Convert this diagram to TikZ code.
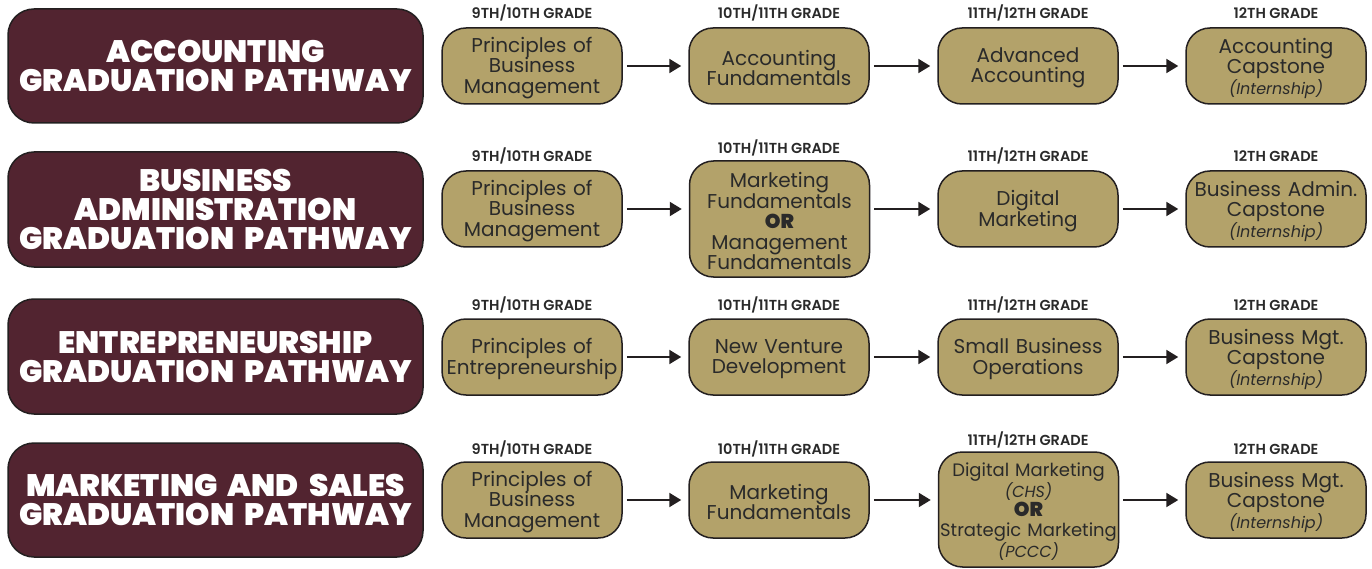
\documentclass[tikz,border=0pt]{standalone}
\usepackage{fontspec}
\setmainfont{Poppins}
\newfontfamily\titlefont{Poppins Black}
\newfontfamily\gradefont{Poppins SemiBold}
\usetikzlibrary{arrows.meta}
\definecolor{maroon}{HTML}{522430}
\definecolor{gold}{HTML}{B3A26A}
\definecolor{textc}{HTML}{2A2A2A}
\definecolor{linec}{HTML}{231F20}
\newcommand{\orword}{{\titlefont OR}}
\newcommand{\intern}[1]{{\fontsize{16}{16}\selectfont\itshape #1}}
\newcommand{\lowertext}{\endgraf\vspace*{-4pt}}
\begin{document}
\begin{tikzpicture}[x=1pt,y=-1pt,
  titlebox/.style={draw=linec, line width=1.5pt, fill=maroon, rounded corners=26pt,
    minimum width=415pt, text width=410pt, align=center, text=white,
    font=\titlefont\fontsize{31}{29}\selectfont, inner sep=0pt},
  course/.style={draw=linec, line width=1.5pt, fill=gold, rounded corners=24pt,
    minimum width=180pt, minimum height=76pt, text width=178pt, align=center,
    text=textc, font=\fontsize{20}{20.5}\selectfont, inner sep=0pt,
    execute at end node={\lowertext}},
  tallcourse/.style={course, minimum height=116pt},
  grade/.style={font=\gradefont\fontsize{14.5}{14.5}\selectfont, text=textc, anchor=base},
  arr/.style={-{Triangle[length=12pt,width=14pt]}, line width=2pt, draw=linec,
    shorten <=4pt, shorten >=7pt}]
\useasboundingbox[fill=white] (0,0) rectangle (1372,569);

% ---------- Row 1 ----------
\node[titlebox, minimum height=114pt] (t1) at (215.5,66) {ACCOUNTING\\GRADUATION PATHWAY};
\node[course] (a1) at (532,66) {Principles of\\Business\\Management};
\node[course] (a2) at (779,66) {Accounting\\Fundamentals};
\node[course] (a3) at (1028,66) {Advanced\\Accounting};
\node[course] (a4) at (1276,66) {Accounting\\Capstone\\\intern{(Internship)}};
\node[grade] (ga1) at (532,19) {9TH/10TH GRADE};
\node[grade] (ga2) at (779,19) {10TH/11TH GRADE};
\node[grade] (ga3) at (1028,19) {11TH/12TH GRADE};
\node[grade] (ga4) at (1276,19) {12TH GRADE};
\draw[arr] (a1.east) -- (a2.west);
\draw[arr] (a2.east) -- (a3.west);
\draw[arr] (a3.east) -- (a4.west);

% ---------- Row 2 ----------
\node[titlebox, minimum height=115pt] (t2) at (215.5,209.5) {BUSINESS\\ADMINISTRATION\\GRADUATION PATHWAY};
\node[course] (b1) at (532,209) {Principles of\\Business\\Management};
\node[tallcourse] (b2) at (779.5,219) {Marketing\\Fundamentals\\\orword\\Management\\Fundamentals};
\node[course] (b3) at (1028,209) {Digital\\Marketing};
\node[course] (b4) at (1276,209) {Business Admin.\\Capstone\\\intern{(Internship)}};
\node[grade] (gb1) at (532,162) {9TH/10TH GRADE};
\node[grade] (gb2) at (779,154) {10TH/11TH GRADE};
\node[grade] (gb3) at (1028,162) {11TH/12TH GRADE};
\node[grade] (gb4) at (1276,162) {12TH GRADE};
\draw[arr] (b1.east) -- (b1.east -| b2.west);
\draw[arr] (b2.east |- b3.west) -- (b3.west);
\draw[arr] (b3.east) -- (b4.west);

% ---------- Row 3 ----------
\node[titlebox, minimum height=115pt] (t3) at (215.5,356.5) {ENTREPRENEURSHIP\\GRADUATION PATHWAY};
\node[course] (c1) at (532,357) {Principles of\\Entrepreneurship};
\node[course] (c2) at (779,357) {New Venture\\Development};
\node[course] (c3) at (1028,357) {Small Business\\Operations};
\node[course] (c4) at (1276,357) {Business Mgt.\\Capstone\\\intern{(Internship)}};
\node[grade] (gc1) at (532,310) {9TH/10TH GRADE};
\node[grade] (gc2) at (779,310) {10TH/11TH GRADE};
\node[grade] (gc3) at (1028,310) {11TH/12TH GRADE};
\node[grade] (gc4) at (1276,310) {12TH GRADE};
\draw[arr] (c1.east) -- (c2.west);
\draw[arr] (c2.east) -- (c3.west);
\draw[arr] (c3.east) -- (c4.west);

% ---------- Row 4 ----------
\node[titlebox, minimum height=114pt] (t4) at (215.5,500) {MARKETING AND SALES\\GRADUATION PATHWAY};
\node[course] (d1) at (532,500) {Principles of\\Business\\Management};
\node[course] (d2) at (779,500) {Marketing\\Fundamentals};
\node[tallcourse, minimum height=115pt, text width=184pt, inner xsep=-2pt,
  font=\fontsize{18}{19.5}\selectfont] (d3) at (1028.5,509.5)
  {Digital Marketing\\\intern{(CHS)}\\{\fontsize{20}{20}\selectfont\orword}\\Strategic Marketing\\\intern{(PCCC)}};
\node[course] (d4) at (1276,500) {Business Mgt.\\Capstone\\\intern{(Internship)}};
\node[grade] (gd1) at (532,454) {9TH/10TH GRADE};
\node[grade] (gd2) at (779,454) {10TH/11TH GRADE};
\node[grade] (gd3) at (1028,445) {11TH/12TH GRADE};
\node[grade] (gd4) at (1276,454) {12TH GRADE};
\draw[arr] (d1.east) -- (d2.west);
\draw[arr] (d2.east) -- (d2.east -| d3.west);
\draw[arr] (d3.east |- d4.west) -- (d4.west);
\end{tikzpicture}
\end{document}
